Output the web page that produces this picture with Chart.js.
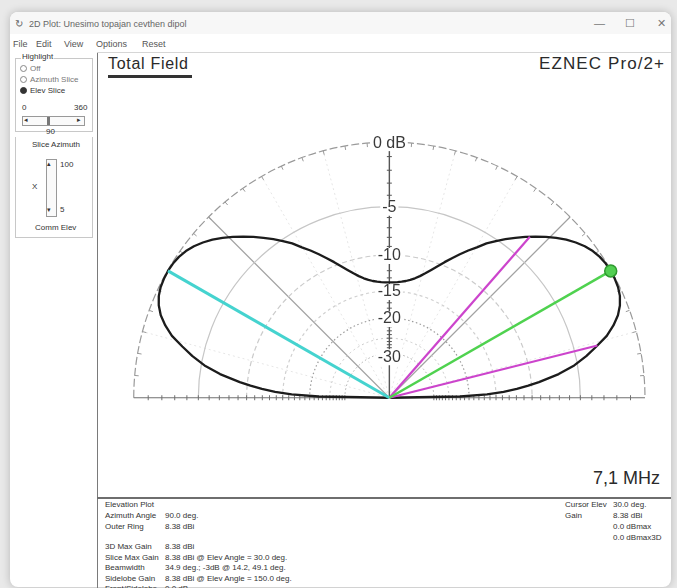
<!DOCTYPE html>
<html>
<head>
<meta charset="utf-8">
<script src="https://cdn.jsdelivr.net/npm/chart.js@4/dist/chart.umd.min.js"></script>
<style>
  html, body { margin: 0; padding: 0; width: 677px; height: 588px; overflow: hidden; background: #e9e9e9; font-family: "Liberation Sans", Arial, sans-serif; }
  #win { position: absolute; left: 10px; top: 12px; width: 661px; height: 575px; background: #fff; border-radius: 8px; box-shadow: 0 0 9px rgba(0,0,0,0.22); overflow: hidden; }
  #titlebar { position: absolute; left: 0; top: 0; width: 661px; height: 22px; background: #f7f7f7; }
  .t { position: absolute; white-space: pre; color: #333; line-height: 1; }
  .ui { font-size: 9px; color: #555; }
  .sm { font-size: 8px; color: #333; }
  .box { position: absolute; border: 1px solid #c8c8c8; }
  .radio { position: absolute; width: 5px; height: 5px; border: 1px solid #888; border-radius: 50%; background: #fff; }
  #chartWrap { position: absolute; left: 98px; top: 53px; width: 572px; height: 445px; }
</style>
</head>
<body>
<div id="win">
  <div id="titlebar"></div>
</div>

<!-- window title and controls -->
<div class="t ui" style="left:15px;top:19px;font-size:10px;color:#666">&#x21BB;</div>
<div class="t ui" style="left:29px;top:20px;color:#666">2D Plot: Unesimo topajan cevthen dipol</div>
<div class="t ui" style="left:594px;top:18px;font-size:11px;color:#777">&#x2014;</div>
<div class="t ui" style="left:625px;top:18px;font-size:11px;color:#777">&#x2610;</div>
<div class="t ui" style="left:657px;top:18px;font-size:11px;color:#777">&#x2715;</div>

<!-- menu -->
<div class="t ui" style="left:13px;top:40px">File</div>
<div class="t ui" style="left:36px;top:40px">Edit</div>
<div class="t ui" style="left:64px;top:40px">View</div>
<div class="t ui" style="left:96px;top:40px">Options</div>
<div class="t ui" style="left:142px;top:40px">Reset</div>

<!-- frame lines -->
<div style="position:absolute;left:97px;top:52px;width:1px;height:536px;background:#7a7a7a"></div>
<div style="position:absolute;left:97px;top:52px;width:574px;height:1px;background:#d6d6d6"></div>
<div style="position:absolute;left:97px;top:497px;width:574px;height:2px;background:#6e6e6e"></div>

<!-- left control panel -->
<div class="box" style="left:15px;top:58px;width:76px;height:72px"></div>
<div class="t sm" style="left:21px;top:53px;background:#fff;padding:0 1px">Highlight</div>
<div class="radio" style="left:20px;top:65px"></div>
<div class="t sm" style="left:30px;top:65px;color:#777">Off</div>
<div class="radio" style="left:20px;top:76px"></div>
<div class="t sm" style="left:30px;top:76px;color:#777">Azimuth Slice</div>
<div class="radio" style="left:20px;top:87px;background:#333;border-color:#333"></div>
<div class="t sm" style="left:30px;top:87px">Elev Slice</div>
<div class="t sm" style="left:22px;top:104px">0</div>
<div class="t sm" style="left:74px;top:104px">360</div>
<div style="position:absolute;left:22px;top:116px;width:61px;height:8px;border:1px solid #999;background:#fafafa"></div>
<div class="t sm" style="left:24px;top:116px;font-size:7px">&#x25C2;</div>
<div class="t sm" style="left:77px;top:116px;font-size:7px">&#x25B8;</div>
<div style="position:absolute;left:47px;top:117px;width:3px;height:8px;background:#777"></div>
<div class="t sm" style="left:46px;top:128px">90</div>
<div class="t sm" style="left:32px;top:141px">Slice Azimuth</div>
<div class="box" style="left:15px;top:137px;width:76px;height:100px;border-top:none"></div>
<div style="position:absolute;left:46px;top:159px;width:9px;height:56px;border:1px solid #999;background:#fafafa"></div>
<div class="t sm" style="left:47px;top:160px;font-size:7px">&#x25B4;</div>
<div class="t sm" style="left:47px;top:206px;font-size:7px">&#x25BE;</div>
<div class="t sm" style="left:60px;top:161px">100</div>
<div class="t sm" style="left:32px;top:183px">X</div>
<div class="t sm" style="left:60px;top:206px">5</div>
<div class="t sm" style="left:35px;top:224px">Comm Elev</div>

<!-- plot captions -->
<div class="t" style="left:108px;top:56px;font-size:16px;letter-spacing:0.7px;color:#2a2a2a">Total Field</div>
<div style="position:absolute;left:108px;top:75px;width:84px;height:2.5px;background:#333"></div>
<div class="t" style="left:539px;top:55px;font-size:17px;letter-spacing:1.1px;color:#2a2a2a">EZNEC Pro/2+</div>
<div class="t" style="left:593px;top:469px;font-size:18px;color:#2a2a2a">7,1 MHz</div>

<!-- numeric summary -->
<div class="t sm" style="left:105px;top:501px">Elevation Plot</div>
<div class="t sm" style="left:105px;top:512px">Azimuth Angle</div>
<div class="t sm" style="left:165px;top:512px">90.0 deg.</div>
<div class="t sm" style="left:105px;top:523px">Outer Ring</div>
<div class="t sm" style="left:165px;top:523px">8.38 dBi</div>
<div class="t sm" style="left:105px;top:543px">3D Max Gain</div>
<div class="t sm" style="left:165px;top:543px">8.38 dBi</div>
<div class="t sm" style="left:105px;top:554px">Slice Max Gain</div>
<div class="t sm" style="left:165px;top:554px">8.38 dBi @ Elev Angle = 30.0 deg.</div>
<div class="t sm" style="left:105px;top:564px">Beamwidth</div>
<div class="t sm" style="left:165px;top:564px">34.9 deg.; -3dB @ 14.2, 49.1 deg.</div>
<div class="t sm" style="left:105px;top:575px">Sidelobe Gain</div>
<div class="t sm" style="left:165px;top:575px">8.38 dBi @ Elev Angle = 150.0 deg.</div>
<div class="t sm" style="left:105px;top:585px">Front/Sidelobe</div>
<div class="t sm" style="left:165px;top:585px">0.0 dB</div>

<div class="t sm" style="left:565px;top:501px">Cursor Elev</div>
<div class="t sm" style="left:613px;top:501px">30.0 deg.</div>
<div class="t sm" style="left:565px;top:512px">Gain</div>
<div class="t sm" style="left:613px;top:512px">8.38 dBi</div>
<div class="t sm" style="left:613px;top:523px">0.0 dBmax</div>
<div class="t sm" style="left:613px;top:534px">0.0 dBmax3D</div>

<div id="chartWrap"><canvas id="plot" width="572" height="445"></canvas></div>

<script>
// Elevation slice at azimuth 90 deg, gain relative to the outer ring (8.38 dBi)
const elevAngles = [
  0, 1, 2, 3, 4, 5, 6, 8, 10, 12,
  14, 16, 18, 20, 22, 24, 26, 28, 30, 32,
  34, 36, 38, 40, 42, 44, 46, 48, 50, 52,
  54, 56, 58, 60, 62, 64, 66, 68, 70, 72,
  74, 76, 78, 80, 82, 84, 86, 88, 90, 92,
  94, 96, 98, 100, 102, 104, 106, 108, 110, 112,
  114, 116, 118, 120, 122, 124, 126, 128, 130, 132,
  134, 136, 138, 140, 142, 144, 146, 148, 150, 152,
  154, 156, 158, 160, 162, 164, 166, 168, 170, 172,
  174, 175, 176, 177, 178, 179, 180
];
const gainDb = [
  -99, -22, -16.5, -13.8, -11.9, -10.4, -9.1, -6.9, -5.3, -4.1,
  -3.1, -2.1, -1.4, -0.85, -0.47, -0.22, -0.08, -0.02, 0, -0.03,
  -0.12, -0.28, -0.52, -0.84, -1.22, -1.67, -2.17, -2.7, -3.25, -3.83,
  -4.43, -5.05, -5.7, -6.5, -7.2, -7.95, -8.7, -9.45, -10.2, -10.9,
  -11.55, -12.1, -12.55, -12.9, -13.15, -13.32, -13.43, -13.5, -13.52, -13.5,
  -13.43, -13.32, -13.15, -12.9, -12.55, -12.1, -11.55, -10.9, -10.2, -9.45,
  -8.7, -7.95, -7.2, -6.5, -5.7, -5.05, -4.43, -3.83, -3.25, -2.7,
  -2.17, -1.67, -1.22, -0.84, -0.52, -0.28, -0.12, -0.03, 0, -0.02,
  -0.08, -0.22, -0.47, -0.85, -1.4, -2.1, -3.1, -4.1, -5.3, -6.9,
  -9.1, -10.4, -11.9, -13.8, -16.5, -22, -99
];

// Grid rings (dB) and their labels
const ringDb = [0, -5, -10, -15, -20, -25, -30];
const ringLabels = ['0 dB', '-5', '-10', '-15', '-20', '', '-30'];

// Markers
const cursorElev = 30.0, cursorGain = 0;
const sidelobeElev = 150.0, sidelobeGain = 0;
const halfPowerElevs = [14.2, 49.1], halfPowerGain = -3;

// ARRL log scale: radius (outer ring = 1) for a relative gain in dB
const arrl = db => Math.pow(0.89, -db / 2);
const polar = (deg, db) => {
  const r = arrl(db), a = deg * Math.PI / 180;
  return { x: r * Math.cos(a), y: r * Math.sin(a) };
};
const pole = { x: 0, y: 0 };
const ray = (deg, db) => [pole, polar(deg, db)];

// Canvas layout: pole position and outer-ring radius in pixels
const W = 572, H = 445, PX = 291.5, PY = 349, R = 262.5;

const polarGrid = {
  id: 'polarGrid',
  beforeDatasetsDraw(chart) {
    const { ctx, scales: { x, y } } = chart;
    const cx = x.getPixelForValue(0), cy = y.getPixelForValue(0);
    const rad = db => x.getPixelForValue(arrl(db)) - cx;
    const R0 = rad(0);
    ctx.save();
    ctx.lineCap = 'butt';

    // radial spokes
    for (let a = 15; a < 180; a += 15) {
      const t = a * Math.PI / 180;
      const major = (a === 45 || a === 135);
      ctx.strokeStyle = major ? '#a2a2a2' : '#e6e6e6';
      ctx.lineWidth = major ? 1.2 : 1;
      ctx.setLineDash(major ? [] : [2, 3]);
      ctx.beginPath();
      ctx.moveTo(cx, cy);
      ctx.lineTo(cx + R0 * Math.cos(t), cy - R0 * Math.sin(t));
      ctx.stroke();
    }

    // rings
    const ringStyle = {
      '0': ['#9a9a9a', [8, 3], 1.2],
      '-5': ['#c6c6c6', [], 1.2],
      '-10': ['#cbcbcb', [5, 3], 1.2],
      '-15': ['#d0d0d0', [3, 3], 1.2],
      '-20': ['#9c9c9c', [1.5, 2.5], 1.2],
      '-25': ['#c8c8c8', [2, 3], 1],
      '-30': ['#ababab', [1.5, 2.5], 1]
    };
    ringDb.forEach(db => {
      const s = ringStyle[String(db)];
      ctx.strokeStyle = s[0];
      ctx.setLineDash(s[1]);
      ctx.lineWidth = s[2];
      ctx.beginPath();
      ctx.arc(cx, cy, rad(db), Math.PI, 2 * Math.PI);
      ctx.stroke();
    });
    ctx.setLineDash([]);

    // degree ticks on the outer ring, every 5 deg
    ctx.strokeStyle = '#999';
    ctx.lineWidth = 1;
    for (let a = 5; a < 180; a += 5) {
      const t = a * Math.PI / 180;
      ctx.beginPath();
      ctx.moveTo(cx + R0 * Math.cos(t), cy - R0 * Math.sin(t));
      ctx.lineTo(cx + (R0 - 4) * Math.cos(t), cy - (R0 - 4) * Math.sin(t));
      ctx.stroke();
    }

    // horizon baseline with dB ticks
    ctx.strokeStyle = '#707070';
    ctx.lineWidth = 1.2;
    ctx.beginPath();
    ctx.moveTo(cx - R0, cy);
    ctx.lineTo(cx + R0, cy);
    ctx.stroke();
    ctx.lineWidth = 1;
    for (let db = -1; db >= -30; db--) {
      const r = rad(db);
      [-1, 1].forEach(sg => {
        ctx.beginPath();
        ctx.moveTo(cx + sg * r, cy - 2.5);
        ctx.lineTo(cx + sg * r, cy + 2.5);
        ctx.stroke();
      });
    }

    // vertical dB axis
    ctx.strokeStyle = '#555';
    ctx.lineWidth = 1.4;
    ctx.beginPath();
    ctx.moveTo(cx, cy);
    ctx.lineTo(cx, cy - R0 + 8);
    ctx.stroke();
    ctx.lineWidth = 1;
    for (let db = -1; db >= -30; db--) {
      const r = rad(db);
      ctx.beginPath();
      ctx.moveTo(cx - 2.5, cy - r);
      ctx.lineTo(cx + 2.5, cy - r);
      ctx.stroke();
    }

    // ring labels on the vertical axis
    ctx.font = '16px "Liberation Sans", Arial, sans-serif';
    ctx.textAlign = 'center';
    ctx.textBaseline = 'middle';
    ringDb.forEach((db, i) => {
      const txt = ringLabels[i];
      if (!txt) return;
      const ly = cy - rad(db) + (db === -30 ? 4 : 1);
      const w = ctx.measureText(txt).width;
      ctx.fillStyle = '#fff';
      ctx.fillRect(cx - w / 2 - 2, ly - 8, w + 4, 16);
      ctx.fillStyle = '#3a3a3a';
      ctx.fillText(txt, cx, ly);
    });
    ctx.restore();
  }
};

const cursorPt = polar(cursorElev, cursorGain);

new Chart(document.getElementById('plot'), {
  type: 'scatter',
  data: {
    datasets: [
      {
        data: [pole, cursorPt],
        showLine: true,
        borderColor: '#4fd24f',
        borderWidth: 2.5,
        pointRadius: [0, 6],
        pointBackgroundColor: '#52cf52',
        pointBorderColor: '#2f9a2f',
        pointBorderWidth: 1.5
      },
      {
        data: ray(sidelobeElev, sidelobeGain),
        showLine: true, borderColor: '#45d3cf', borderWidth: 3, pointRadius: 0
      },
      {
        data: ray(halfPowerElevs[0], halfPowerGain),
        showLine: true, borderColor: '#cc44cc', borderWidth: 2.2, pointRadius: 0
      },
      {
        data: ray(halfPowerElevs[1], halfPowerGain),
        showLine: true, borderColor: '#cc44cc', borderWidth: 2.2, pointRadius: 0
      },
      {
        data: elevAngles.map((a, i) => polar(a, gainDb[i])),
        showLine: true, borderColor: '#1c1c1c', borderWidth: 2.3,
        pointRadius: 0, tension: 0, borderJoinStyle: 'round'
      }
    ]
  },
  options: {
    responsive: false,
    devicePixelRatio: 1,
    animation: false,
    events: [],
    layout: { padding: 0 },
    plugins: { legend: { display: false }, tooltip: { enabled: false } },
    scales: {
      x: { type: 'linear', display: false, min: -PX / R, max: (W - PX) / R },
      y: { type: 'linear', display: false, min: -(H - PY) / R, max: PY / R }
    }
  },
  plugins: [polarGrid]
});
</script>
</body>
</html>
